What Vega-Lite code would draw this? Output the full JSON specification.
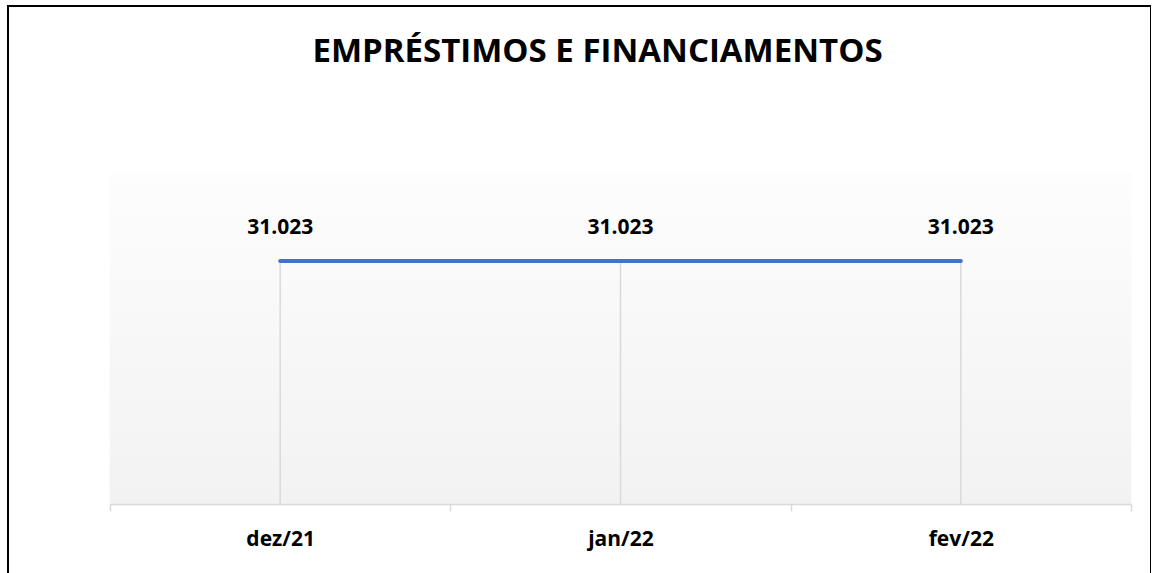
{
  "$schema": "https://vega.github.io/schema/vega-lite/v6.json",
  "width": 1143,
  "height": 600,
  "autosize": {"type": "none"},
  "padding": {"left": 8, "top": 6, "right": 0, "bottom": 0},
  "background": "white",
  "title": {
    "text": "EMPRÉSTIMOS E FINANCIAMENTOS",
    "font": "Open Sans",
    "fontSize": 33,
    "fontWeight": "bold",
    "color": "#000000",
    "anchor": "middle",
    "frame": "group",
    "baseline": "bottom",
    "offset": -56,
    "dy": 40,
    "dx": 18
  },
  "config": {
    "view": {"stroke": "#000000", "strokeWidth": 2, "fill": "white"},
    "locale": {"number": {"decimal": ",", "thousands": ".", "grouping": [3], "currency": ["R$", ""]}}
  },
  "data": {
    "values": [
      {"mes": "dez/21", "valor": 31023},
      {"mes": "jan/22", "valor": 31023},
      {"mes": "fev/22", "valor": 31023}
    ]
  },
  "encoding": {
    "x": {
      "field": "mes",
      "type": "nominal",
      "sort": null,
      "scale": {"range": [102, 1123], "paddingInner": 0, "paddingOuter": 0},
      "axis": {
        "orient": "bottom",
        "offset": -102,
        "title": null,
        "domainColor": "#d9d9d9",
        "domainWidth": 1.5,
        "tickColor": "#d9d9d9",
        "tickWidth": 1.5,
        "tickSize": 7,
        "tickBand": "extent",
        "labelFont": "Open Sans",
        "labelFontSize": 21,
        "labelFontWeight": "bold",
        "labelColor": "#000000",
        "labelPadding": 17,
        "labelAngle": 0,
        "grid": false
      }
    },
    "y": {
      "field": "valor",
      "type": "quantitative",
      "scale": {"domain": [0, 42265], "range": [498, 167], "nice": false, "zero": true},
      "axis": null
    }
  },
  "layer": [
    {
      "mark": {
        "type": "rect",
        "color": {"gradient": "linear", "x1": 0, "y1": 0, "x2": 0, "y2": 1, "stops": [{"offset": 0, "color": "#fdfdfd"}, {"offset": 1, "color": "#f2f2f2"}]},
        "stroke": {"gradient": "linear", "x1": 0, "y1": 0, "x2": 0, "y2": 1, "stops": [{"offset": 0, "color": "#fdfdfd"}, {"offset": 1, "color": "#f2f2f2"}]},
        "strokeWidth": 0.8
      },
      "encoding": {
        "y": {"datum": 42265, "type": "quantitative"},
        "y2": {"datum": 0}
      }
    },
    {
      "mark": {"type": "rule", "color": "#d9d9d9", "strokeWidth": 1.5},
      "encoding": {"y2": {"datum": 0}}
    },
    {
      "mark": {"type": "line", "color": "#4472C4", "strokeWidth": 4, "strokeCap": "round"},
      "encoding": {}
    },
    {
      "mark": {"type": "text", "dy": -33, "font": "Open Sans", "fontSize": 21, "fontWeight": "bold", "baseline": "middle", "color": "#000000"},
      "encoding": {"text": {"field": "valor", "type": "quantitative", "format": ",d"}}
    }
  ]
}
